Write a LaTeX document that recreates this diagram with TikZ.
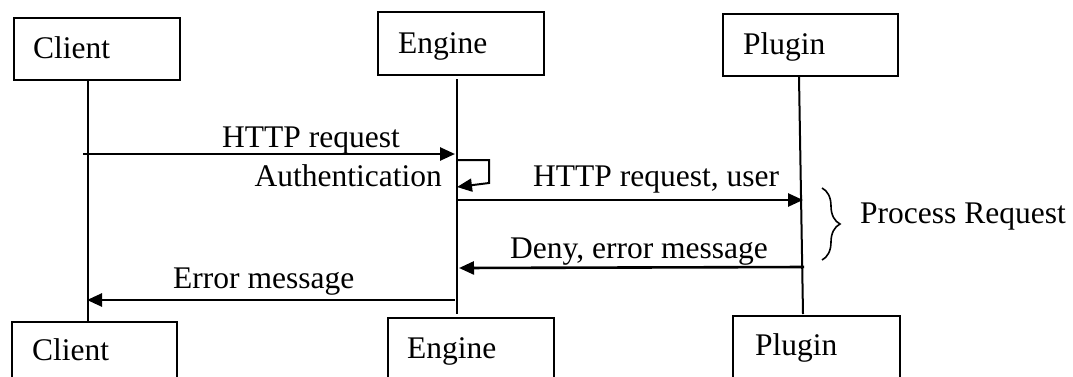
\documentclass[tikz,border=0pt]{standalone}
\usepackage{fontspec}
\setmainfont{Liberation Serif}
\usetikzlibrary{arrows.meta,decorations.pathreplacing}
\begin{document}
\begin{tikzpicture}[x=1pt,y=-1pt,
  actor/.style={draw,line width=2pt,inner sep=0pt,anchor=north west},
  life/.style={line width=2pt},
  msg/.style={line width=2.6pt,-{Triangle[length=15pt,width=13pt]}},
  lbl/.style={anchor=base west,inner sep=0pt,font=\fontsize{31.5}{36}\selectfont},
  lble/.style={lbl,anchor=base east}]
\clip (0,0) rectangle (1073,376);

% participant boxes, top row
\node[actor,minimum width=166pt,minimum height=62pt] (clientTop) at (13,17) {};
\node[actor,minimum width=166pt,minimum height=63pt] (engineTop) at (377,11) {};
\node[actor,minimum width=175pt,minimum height=62pt] (pluginTop) at (722,13) {};
\node[lbl] (clientTopTxt) at (33,58) {Client};
\node[lbl] (engineTopTxt) at (398,53) {Engine};
\node[lbl] (pluginTopTxt) at (743,54) {Plugin};

% participant boxes, bottom row
\node[actor,minimum width=165pt,minimum height=70pt] (clientBot) at (11,321) {};
\node[actor,minimum width=166pt,minimum height=70pt] (engineBot) at (387,317) {};
\node[actor,minimum width=167pt,minimum height=70pt] (pluginBot) at (732,315) {};
\node[lbl] (clientBotTxt) at (32,360) {Client};
\node[lbl] (engineBotTxt) at (407,358) {Engine};
\node[lbl] (pluginBotTxt) at (755,355) {Plugin};

% lifelines
\coordinate (cA) at (88,79);   \coordinate (cB) at (88,321);
\coordinate (eA) at (457,79);  \coordinate (eB) at (457,314);
\coordinate (pA) at (799,77);  \coordinate (pB) at (803,314);
\draw[life] (cA) -- (cB);
\draw[life] (eA) -- (eB);
\draw[life] (pA) -- (pB);

% message end points
\coordinate (m1s) at (83,154);  \coordinate (m1e) at (455,154);
\coordinate (s1) at (457,160);  \coordinate (s2) at (489,160);
\coordinate (s3) at (489,183);  \coordinate (s4) at (457,187);
\coordinate (m2s) at (457,200); \coordinate (m2e) at (803,200);
\coordinate (m3s) at (804,267); \coordinate (m3e) at (459,268);
\coordinate (m4s) at (455,300); \coordinate (m4e) at (87,300);

% messages
\draw[msg] (m1s) -- (m1e);
\draw[msg,line width=2pt] (s1) -- (s2) -- (s3) -- (s4);
\draw[msg] (m2s) -- (m2e);
\draw[msg] (m3s) -- (m3e);
\draw[msg] (m4s) -- (m4e);

% message labels
\node[lbl]  (l1) at (222,147) {HTTP request};
\node[lble] (l2) at (442,186) {Authentication};
\node[lbl]  (l3) at (533,186) {HTTP request, user};
\node[lbl]  (l4) at (510,258) {Deny, error message};
\node[lbl]  (l5) at (173,288) {Error message};

% processing brace
\coordinate (bA) at (822,188); \coordinate (bB) at (822,260);
\draw[line width=1.6pt,decorate,decoration={brace,amplitude=18pt}] (bA) -- (bB);
\node[lbl] (proc) at (860,223) {Process Request};
\end{tikzpicture}
\end{document}
